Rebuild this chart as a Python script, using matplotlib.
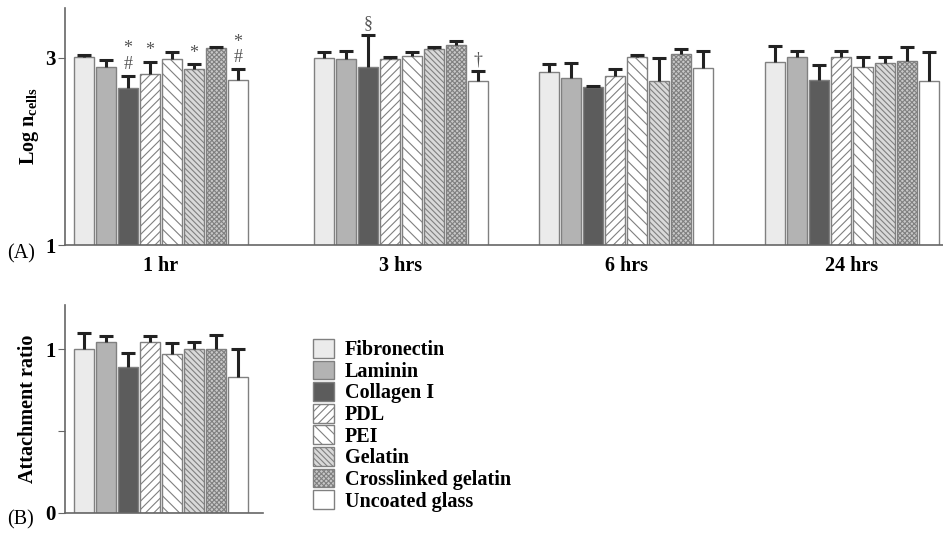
import numpy as np
from matplotlib import pyplot as plt

plt.rcParams['font.family'] = ['Liberation Serif', 'DejaVu Serif']
plt.rcParams['mathtext.fontset'] = 'custom'
plt.rcParams['mathtext.bf'] = 'Liberation Serif:bold'
plt.rcParams['mathtext.rm'] = 'Liberation Serif:bold'
plt.rcParams['hatch.linewidth'] = 0.8

coatings = ['Fibronectin', 'Laminin', 'Collagen I', 'PDL', 'PEI', 'Gelatin',
            'Crosslinked gelatin', 'Uncoated glass']
times = ['1 hr', '3 hrs', '6 hrs', '24 hrs']

# log n_cells, mean and upper error, rows = time points
log_cells = [
    [3.01, 2.90, 2.68, 2.83, 2.99, 2.88, 3.10, 2.76],
    [3.00, 2.99, 2.90, 2.99, 3.02, 3.09, 3.14, 2.75],
    [2.85, 2.78, 2.69, 2.81, 3.01, 2.75, 3.04, 2.89],
    [2.96, 3.01, 2.76, 3.01, 2.90, 2.94, 2.97, 2.75],
]
log_cells_err = [
    [0.02, 0.08, 0.13, 0.13, 0.07, 0.05, 0.01, 0.12],
    [0.06, 0.08, 0.34, 0.02, 0.04, 0.02, 0.04, 0.11],
    [0.08, 0.16, 0.01, 0.07, 0.02, 0.25, 0.05, 0.18],
    [0.17, 0.06, 0.16, 0.06, 0.11, 0.07, 0.14, 0.31],
]

# attachment ratio
ratio = [1.00, 1.045, 0.893, 1.043, 0.974, 1.00, 1.00, 0.832]
ratio_err = [0.10, 0.035, 0.087, 0.037, 0.063, 0.043, 0.088, 0.172]

# significance marks: (time index, coating index, text)
marks = [(0, 2, '*\n#'), (0, 3, '*'), (0, 5, '*'), (0, 7, '*\n#'),
         (1, 2, '§'), (1, 7, '†')]

faces = ['#ebebeb', '#b3b3b3', '#5c5c5c', 'white', 'white', '#d9d9d9', '#c8c8c8', 'white']
hatches = [None, None, None, '////', '\\\\\\', '\\\\\\\\\\\\', 'xxxxxxx', None]
edge = '#808080'

group_x = [0, 10.9, 21.15, 31.4]
offs = np.arange(8) - 3.5
w = 0.9


def up_err(ax, x, y, e):
    # one-sided error bar, only the upper cap
    _, caps, _ = ax.errorbar(x, y, yerr=[[0], [e]], fmt='none', ecolor='#222222',
                             elinewidth=2.2, capsize=5, capthick=2.2, zorder=3)
    caps[0].set_visible(False)


fig = plt.figure(figsize=(9.43, 5.41), dpi=100)
axA = fig.add_axes([0.069, 0.547, 0.931, 0.438])
axB = fig.add_axes([0.069, 0.052, 0.21, 0.384])

for g in range(4):
    for j in range(8):
        x = group_x[g] + offs[j]
        axA.bar(x, log_cells[g][j], w, color=faces[j], edgecolor=edge,
                hatch=hatches[j], lw=1, zorder=2)
        up_err(axA, x, log_cells[g][j], log_cells_err[g][j])

for g, j, s in marks:
    top = log_cells[g][j] + log_cells_err[g][j]
    axA.annotate(s, (group_x[g] + offs[j], top), xytext=(0, 2),
                 textcoords='offset points', ha='center', va='bottom',
                 fontsize=13, color='#555555', linespacing=0.9)

axA.set_ylim(1, 3.53)
axA.set_xlim(-4.36, 35.55)
axA.set_yticks([1, 3])
axA.set_yticklabels(['1', '3'], fontsize=15, fontweight='bold')
axA.set_xticks(group_x)
axA.set_xticklabels(times, fontsize=14.5, fontweight='bold')
axA.tick_params(axis='x', length=0, pad=8)
axA.tick_params(axis='y', length=5, color='#666666', pad=2)
axA.set_ylabel(r'Log n$_{\mathbf{cells}}$', fontsize=14.5, fontweight='bold', labelpad=3)
for sp in ['top', 'right']:
    axA.spines[sp].set_visible(False)
for sp in ['left', 'bottom']:
    axA.spines[sp].set_color('#666666')
    axA.spines[sp].set_linewidth(1.2)

handles = []
for j in range(8):
    b = axB.bar(offs[j], ratio[j], w, color=faces[j], edgecolor=edge,
                hatch=hatches[j], lw=1, zorder=2)
    handles.append(b)
    up_err(axB, offs[j], ratio[j], ratio_err[j])

axB.set_ylim(0, 1.27)
axB.set_xlim(-4.36, 4.64)
axB.set_yticks([0, 0.5, 1])
axB.set_yticklabels(['0', '', '1'], fontsize=15, fontweight='bold')
axB.set_xticks([])
axB.tick_params(axis='y', length=5, color='#666666', pad=2)
axB.set_ylabel('Attachment ratio', fontsize=14.5, fontweight='bold', labelpad=5)
for sp in ['top', 'right']:
    axB.spines[sp].set_visible(False)
for sp in ['left', 'bottom']:
    axB.spines[sp].set_color('#666666')
    axB.spines[sp].set_linewidth(1.2)

fig.legend(handles, coatings, loc='upper left', bbox_to_anchor=(0.321, 0.392),
           frameon=False, prop={'weight': 'bold', 'size': 14.5},
           handlelength=1.05, handleheight=1.05, labelspacing=0.02,
           handletextpad=0.55, borderpad=0)

fig.text(0.008, 0.523, '(A)', fontsize=14.5)
fig.text(0.008, 0.03, '(B)', fontsize=14.5)

plt.savefig('out.png', dpi=100)
